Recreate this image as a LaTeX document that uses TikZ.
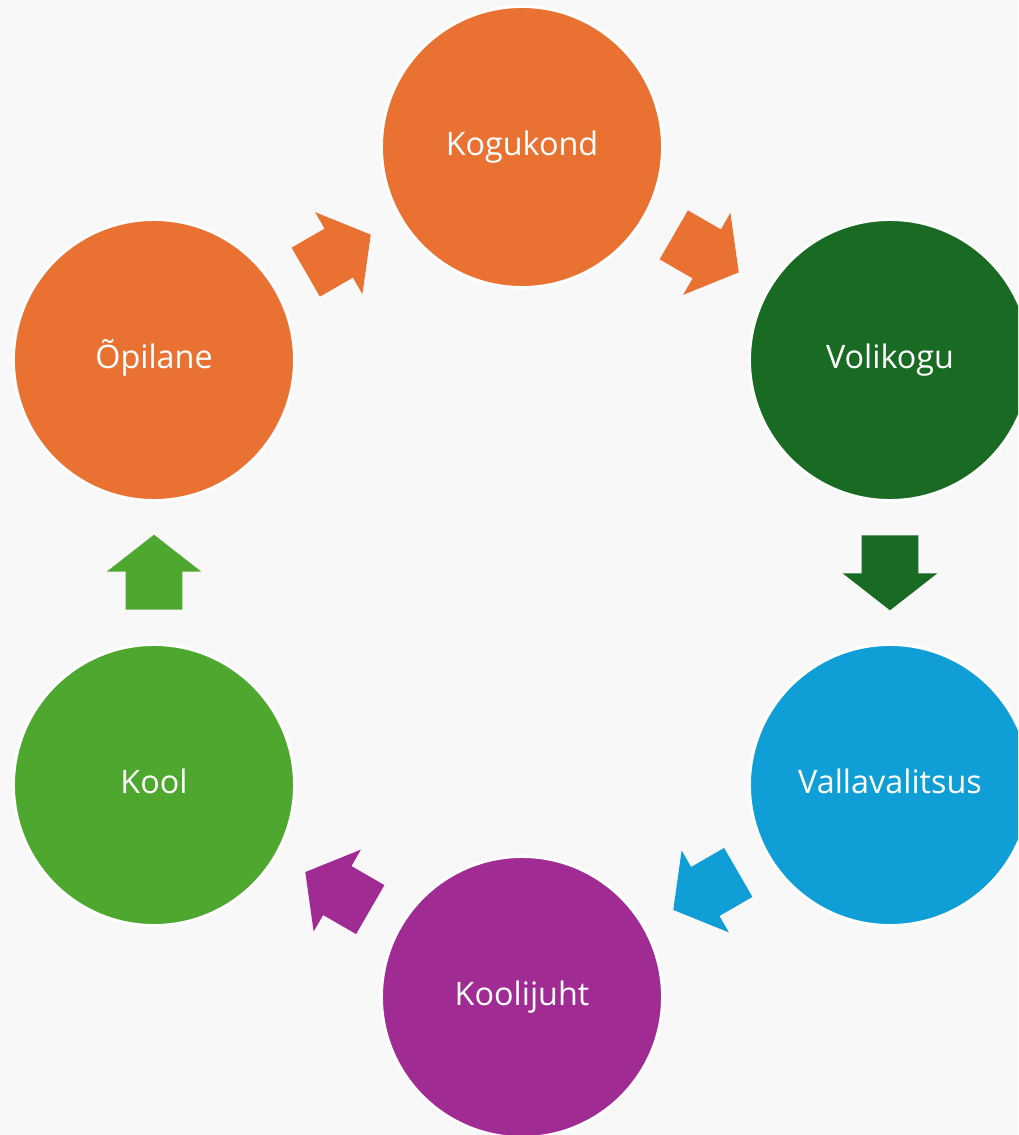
\documentclass[tikz,border=0pt]{standalone}
\usepackage{fontspec}
\setmainfont{Open Sans}
\usetikzlibrary{shapes.arrows,calc}

\definecolor{bgGray}{HTML}{F8F8F8}
\definecolor{accOrange}{HTML}{E97132}
\definecolor{accDarkGreen}{HTML}{196B24}
\definecolor{accBlue}{HTML}{0F9ED5}
\definecolor{accPurple}{HTML}{A02B93}
\definecolor{accGreen}{HTML}{4EA72E}

\tikzset{
  stage/.style={circle, fill=#1, draw=white, line width=0.075cm,
    minimum size=7.025cm, inner sep=0pt, text=white,
    text height=17pt, text depth=4.6pt,
    font=\fontsize{23}{28}\selectfont},
  flowarrow/.style={single arrow, fill=#1, draw=none, anchor=tail,
    inner xsep=0pt, inner ysep=0.7cm, minimum height=1.875cm,
    single arrow head extend=0.475cm, single arrow tip angle=104},
}

\begin{document}
\begin{tikzpicture}[x=0.025cm, y=-0.025cm]

    % taust
    \fill[bgGray] (0,0) rectangle (1018,1135);
    \useasboundingbox (0,0) rectangle (1018,1135);
    \clip (0,0) rectangle (1018,1135);

    % ringid
    \node[stage=accOrange] (kogukond) at (522,147) {Kogukond};
    \node[stage=accDarkGreen] (volikogu) at (890,360) {Volikogu};
    \node[stage=accBlue] (vallavalitsus) at (890,785) {Vallavalitsus};
    \node[stage=accPurple] (koolijuht) at (522,997) {Koolijuht};
    \node[stage=accGreen] (kool) at (154,785) {Kool};
    \node[stage=accOrange] (opilane) at (154,360) {Õpilane};

    % nooled ringide vahel (saba pool noole pikkust enne keskkohta)
    \node[flowarrow=accOrange, rotate=-30] (nool1) at ($(kogukond)!0.5!(volikogu)!-0.9375cm!(volikogu)$) {}; % Kogukond -> Volikogu
    \node[flowarrow=accDarkGreen, rotate=-90] (nool2) at ($(volikogu)!0.5!(vallavalitsus)!-0.9375cm!(vallavalitsus)$) {}; % Volikogu -> Vallavalitsus
    \node[flowarrow=accBlue, rotate=-150] (nool3) at ($(vallavalitsus)!0.5!(koolijuht)!-0.9375cm!(koolijuht)$) {}; % Vallavalitsus -> Koolijuht
    \node[flowarrow=accPurple, rotate=150] (nool4) at ($(koolijuht)!0.5!(kool)!-0.9375cm!(kool)$) {}; % Koolijuht -> Kool
    \node[flowarrow=accGreen, rotate=90] (nool5) at ($(kool)!0.5!(opilane)!-0.9375cm!(opilane)$) {}; % Kool -> Õpilane
    \node[flowarrow=accOrange, rotate=30] (nool6) at ($(opilane)!0.5!(kogukond)!-0.9375cm!(kogukond)$) {}; % Õpilane -> Kogukond

\end{tikzpicture}
\end{document}
